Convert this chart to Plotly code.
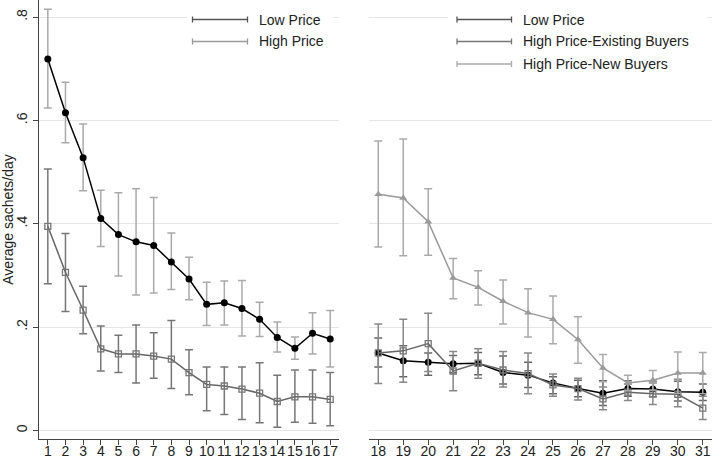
import plotly.graph_objects as go
from plotly.subplots import make_subplots

# ---------------- data ----------------
days_left = list(range(1, 18))
low_mean = [0.719, 0.615, 0.528, 0.410, 0.379, 0.365, 0.358, 0.326, 0.293, 0.244, 0.247, 0.236, 0.215, 0.180, 0.159, 0.188, 0.177]
low_hi = [0.815, 0.674, 0.593, 0.465, 0.460, 0.468, 0.451, 0.382, 0.335, 0.287, 0.289, 0.290, 0.248, 0.210, 0.181, 0.228, 0.232]
low_lo = [0.624, 0.557, 0.464, 0.356, 0.299, 0.262, 0.266, 0.273, 0.253, 0.203, 0.204, 0.183, 0.182, 0.152, 0.138, 0.148, 0.123]

high_mean = [0.395, 0.306, 0.233, 0.158, 0.148, 0.148, 0.144, 0.138, 0.112, 0.089, 0.086, 0.080, 0.072, 0.056, 0.065, 0.065, 0.060]
high_hi = [0.506, 0.381, 0.279, 0.202, 0.184, 0.204, 0.189, 0.213, 0.156, 0.123, 0.123, 0.123, 0.131, 0.107, 0.117, 0.117, 0.112]
high_lo = [0.284, 0.230, 0.187, 0.115, 0.112, 0.092, 0.101, 0.081, 0.069, 0.038, 0.031, 0.021, 0.015, 0.006, 0.016, 0.014, 0.009]

days_right = list(range(18, 32))
low2_mean = [0.150, 0.135, 0.132, 0.129, 0.130, 0.112, 0.107, 0.092, 0.081, 0.072, 0.081, 0.080, 0.075, 0.074]
low2_hi = [0.179, 0.164, 0.150, 0.145, 0.151, 0.144, 0.132, 0.104, 0.097, 0.096, 0.096, 0.095, 0.095, 0.090]
low2_lo = [0.123, 0.104, 0.107, 0.112, 0.108, 0.090, 0.083, 0.071, 0.065, 0.048, 0.066, 0.065, 0.057, 0.058]

exist_mean = [0.150, 0.154, 0.168, 0.115, 0.130, 0.117, 0.110, 0.088, 0.081, 0.061, 0.074, 0.071, 0.070, 0.043]
exist_hi = [0.206, 0.215, 0.227, 0.153, 0.158, 0.153, 0.150, 0.109, 0.101, 0.084, 0.090, 0.092, 0.099, 0.066]
exist_lo = [0.091, 0.093, 0.114, 0.077, 0.101, 0.084, 0.071, 0.066, 0.059, 0.040, 0.058, 0.050, 0.046, 0.021]

new_mean = [0.457, 0.450, 0.404, 0.295, 0.277, 0.250, 0.228, 0.215, 0.176, 0.121, 0.092, 0.097, 0.111, 0.111]
new_hi = [0.560, 0.564, 0.468, 0.333, 0.309, 0.291, 0.274, 0.260, 0.220, 0.147, 0.107, 0.116, 0.152, 0.151]
new_lo = [0.355, 0.338, 0.339, 0.255, 0.243, 0.206, 0.181, 0.168, 0.130, 0.094, 0.077, 0.078, 0.072, 0.071]

y_tickvals = [0, 0.2, 0.4, 0.6, 0.8]
y_ticktext = ["0", ".2", ".4", ".6", ".8"]
legend_left = ["Low Price", "High Price"]
legend_right = ["Low Price", "High Price-Existing Buyers", "High Price-New Buyers"]

# ---------------- figure ----------------
W, H = 712, 462
ML, MR, MT, MB = 39, 0, 0, 23
FONT = "Liberation Sans, Arial, Helvetica, sans-serif"

fig = make_subplots(rows=1, cols=2, horizontal_spacing=0.0446,
                    column_widths=[0.4458, 0.5096])


def err(mean, lo, hi):
    return dict(type="data", symmetric=False,
                array=[h - m for m, h in zip(mean, hi)],
                arrayminus=[m - l for m, l in zip(mean, lo)])


def series(x, mean, lo, hi, line_col, err_col, marker, col):
    e = err(mean, lo, hi)
    e.update(color=err_col, thickness=1.5, width=4)
    fig.add_trace(go.Scatter(x=x, y=mean, mode="lines+markers",
                             line=dict(color=line_col, width=1.5),
                             marker=marker, error_y=e, showlegend=False,
                             cliponaxis=False),
                  row=1, col=col)


series(days_left, low_mean, low_lo, low_hi, "#000000", "#aaaaaa",
       dict(symbol="circle", size=7, color="#000000"), 1)
series(days_left, high_mean, high_lo, high_hi, "#666666", "#777777",
       dict(symbol="square-open", size=6, color="#777777", line=dict(width=1.3)), 1)

series(days_right, low2_mean, low2_lo, low2_hi, "#000000", "#666666",
       dict(symbol="circle", size=7, color="#000000"), 2)
series(days_right, exist_mean, exist_lo, exist_hi, "#666666", "#888888",
       dict(symbol="square-open", size=6, color="#777777", line=dict(width=1.3)), 2)
series(days_right, new_mean, new_lo, new_hi, "#999999", "#aaaaaa",
       dict(symbol="triangle-up", size=7, color="#9a9a9a"), 2)

yrange = [-0.0166, 0.8331]
axis_font = dict(family=FONT, size=14, color="#222222")

xcommon = dict(showgrid=False, zeroline=False, showline=True,
               linecolor="#444444", linewidth=1.2, ticks="outside",
               ticklen=5, tickcolor="#444444", tickfont=axis_font,
               tickangle=0, automargin=False, ticklabelstandoff=-6)
fig.update_xaxes(row=1, col=1, range=[0.5, 17.5], tickmode="array",
                 tickvals=days_left, ticktext=[str(d) for d in days_left],
                 **xcommon)
fig.update_xaxes(row=1, col=2, range=[17.63, 31.37], tickmode="array",
                 tickvals=days_right, ticktext=[str(d) for d in days_right],
                 **xcommon)
fig.update_yaxes(row=1, col=1, range=yrange, tickmode="array",
                 tickvals=y_tickvals, ticktext=y_ticktext, tickangle=-90,
                 showgrid=True, gridcolor="#e6e6e6", gridwidth=1,
                 zeroline=False, showline=True, linecolor="#444444",
                 linewidth=1.2, ticks="outside", ticklen=5,
                 tickcolor="#444444", tickfont=axis_font, automargin=False,
                 title=dict(text="Average sachets/day",
                            font=dict(family=FONT, size=14, color="#222222"),
                            standoff=4))
fig.update_yaxes(row=1, col=2, range=yrange, tickmode="array",
                 tickvals=y_tickvals, showticklabels=False,
                 showgrid=True, gridcolor="#e6e6e6", gridwidth=1,
                 zeroline=False, showline=False, ticks="", automargin=False)

# ---------------- hand-drawn legends (rcap keys) ----------------
PW = W - ML - MR
PH = H - MT - MB


def px(x):
    return (x - ML) / PW


def py(y):
    return 1 - (y - MT) / PH


shapes = []
annotations = []


def legend_box(x0, x1, y0, y1):
    shapes.append(dict(type="rect", xref="paper", yref="paper",
                       x0=px(x0), x1=px(x1), y0=py(y1), y1=py(y0),
                       fillcolor="white", line=dict(width=0), layer="above"))


def legend_key(xa, xb, y, color, label, xt):
    shapes.append(dict(type="line", xref="paper", yref="paper",
                       x0=px(xa), x1=px(xb), y0=py(y), y1=py(y),
                       line=dict(color=color, width=1.5), layer="above"))
    for xc in (xa, xb):
        shapes.append(dict(type="line", xref="paper", yref="paper",
                           x0=px(xc), x1=px(xc), y0=py(y - 3), y1=py(y + 3),
                           line=dict(color=color, width=1.3), layer="above"))
    annotations.append(dict(xref="paper", yref="paper", x=px(xt), y=py(y),
                            xanchor="left", yanchor="middle", showarrow=False,
                            text=label,
                            font=dict(family=FONT, size=14, color="#222222")))


legend_box(187, 333, 4, 52)
legend_key(192.5, 247.5, 19.5, "#555555", legend_left[0], 257)
legend_key(192.5, 247.5, 41.5, "#999999", legend_left[1], 257)

legend_box(448, 707, 4, 75)
legend_key(457, 511.5, 19.5, "#555555", legend_right[0], 521)
legend_key(457, 511.5, 41.5, "#777777", legend_right[1], 521)
legend_key(457, 511.5, 64, "#aaaaaa", legend_right[2], 521)

fig.update_layout(width=W, height=H,
                  margin=dict(l=ML, r=MR, t=MT, b=MB, pad=0, autoexpand=False),
                  paper_bgcolor="white", plot_bgcolor="white",
                  font=dict(family=FONT, size=14, color="#222222"),
                  showlegend=False, shapes=shapes, annotations=annotations)

fig.write_html("out.html", config={"displayModeBar": False},
               post_script="document.body.style.margin='0px';"
                           "document.body.style.overflow='hidden';")
